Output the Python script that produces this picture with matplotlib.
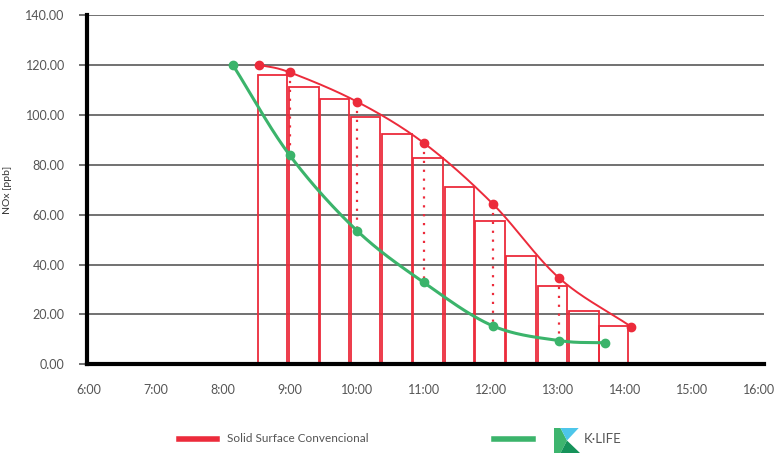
import numpy as np
import matplotlib.pyplot as plt
from matplotlib.lines import Line2D
from matplotlib.patches import Polygon

plt.rcParams['font.family'] = ['Lato', 'DejaVu Sans']

# horas decimales / NOx [ppb]
red_t = [8.54, 9.0, 10.0, 11.0, 12.03, 13.02, 14.1]
red_v = [120.0, 117.0, 105.3, 88.7, 64.3, 34.6, 15.0]
green_t = [8.15, 9.0, 10.0, 11.0, 12.03, 13.02, 13.7]
green_v = [119.9, 83.7, 53.6, 32.8, 15.4, 9.5, 8.6]

# barras (inicio de cada intervalo en horas, altura)
bar_start = [8.52, 8.99, 9.45, 9.91, 10.38, 10.84, 11.31, 11.77, 12.23, 12.70, 13.17, 13.61]
bar_h = [115.9, 111.3, 106.4, 99.1, 92.3, 82.8, 71.1, 57.3, 43.6, 31.2, 21.4, 15.5]

xticks = list(range(6, 17))
xlabels = ['%d:00' % h for h in xticks]
yticks = [0, 20, 40, 60, 80, 100, 120, 140]

RED = '#EC2B3B'
GREEN = '#3BB46B'


def smooth(xs, ys, n=40):
    # curva suavizada tipo Catmull-Rom por los puntos dados
    p = np.column_stack([xs, ys]).astype(float)
    p = np.vstack([2 * p[0] - p[1], p, 2 * p[-1] - p[-2]])
    out = []
    for i in range(1, len(p) - 2):
        p0, p1, p2, p3 = p[i - 1], p[i], p[i + 1], p[i + 2]
        c1 = p1 + (p2 - p0) / 6
        c2 = p2 - (p3 - p1) / 6
        t = np.linspace(0, 1, n)[:, None]
        seg = ((1 - t) ** 3) * p1 + 3 * ((1 - t) ** 2) * t * c1 + 3 * (1 - t) * t ** 2 * c2 + t ** 3 * p2
        out.append(seg if i == 1 else seg[1:])
    out = np.vstack(out)
    return out[:, 0], out[:, 1]


fig = plt.figure(figsize=(7.8, 4.55), dpi=100)
ax = fig.add_axes([87 / 780, 1 - 364.3 / 455, 677 / 780, 349.3 / 455])

ax.set_xlim(5.97, 16.08)
ax.set_ylim(0, 140)
ax.set_yticks(yticks)
ax.set_yticklabels(['%.2f' % v for v in yticks])
ax.set_xticks(xticks)
ax.set_xticklabels(xlabels)
ax.grid(axis='y', color='#4a4a4a', lw=1.1)
ax.set_axisbelow(True)
ax.tick_params(axis='y', length=6, width=1.1, color='#4a4a4a', pad=10, labelsize=9, labelcolor='#555555')
ax.tick_params(axis='x', length=0, pad=14, labelsize=9, labelcolor='#555555')
for s in ['top', 'right']:
    ax.spines[s].set_visible(False)
ax.spines['left'].set_linewidth(3)
ax.spines['bottom'].set_linewidth(3)
ax.spines['left'].set_color('black')
ax.spines['bottom'].set_color('black')
ax.set_ylabel('NOx [ppb]', fontsize=7.5, color='#333333')
ax.yaxis.set_label_coords(-0.111, 0.5)

ax.bar(bar_start, bar_h, width=0.44, align='edge', fill=False, edgecolor=RED, lw=1.3, zorder=2)

# líneas punteadas entre ambas curvas a la misma hora
for i in range(1, 6):
    ax.plot([red_t[i], red_t[i]], [red_v[i], green_v[i]], color=RED, lw=1.6,
            ls=(0, (1, 3)), zorder=3)

gx, gy = smooth(green_t, green_v)
ax.plot(gx, gy, color=GREEN, lw=2.2, zorder=4)
ax.plot(green_t, green_v, 'o', color=GREEN, ms=6, zorder=5)

rx, ry = smooth(red_t, red_v)
ax.plot(rx, ry, color=RED, lw=1.4, zorder=4)
ax.plot(red_t, red_v, 'o', color=RED, ms=6, zorder=5)

# leyenda
ly = 1 - 439 / 455
fig.add_artist(Line2D([179 / 780, 217 / 780], [ly, ly], color=RED, lw=4))
fig.text(227 / 780, ly, 'Solid Surface Convencional', fontsize=8.5, color='#555555', va='center')
fig.add_artist(Line2D([494 / 780, 533 / 780], [ly, ly], color=GREEN, lw=4))

logo = fig.add_axes([554 / 780, 1 - 453 / 455, 26 / 780, 25 / 455])
logo.set_xlim(0, 1)
logo.set_ylim(0, 1)
logo.axis('off')
logo.add_patch(Polygon([(0, 1), (0.25, 1), (0.5, 0.5), (0.25, 0), (0, 0)], color='#3DB56E', lw=0))
logo.add_patch(Polygon([(0.25, 1), (0.95, 1), (0.5, 0.5)], color='#4DC6EA', lw=0))
logo.add_patch(Polygon([(0.25, 0), (0.5, 0.5), (1.0, 0)], color='#16935A', lw=0))
fig.text(584 / 780, ly, 'K·LIFE', fontsize=9.5, color='#555555', va='center')

fig.savefig('out.png', dpi=100)
